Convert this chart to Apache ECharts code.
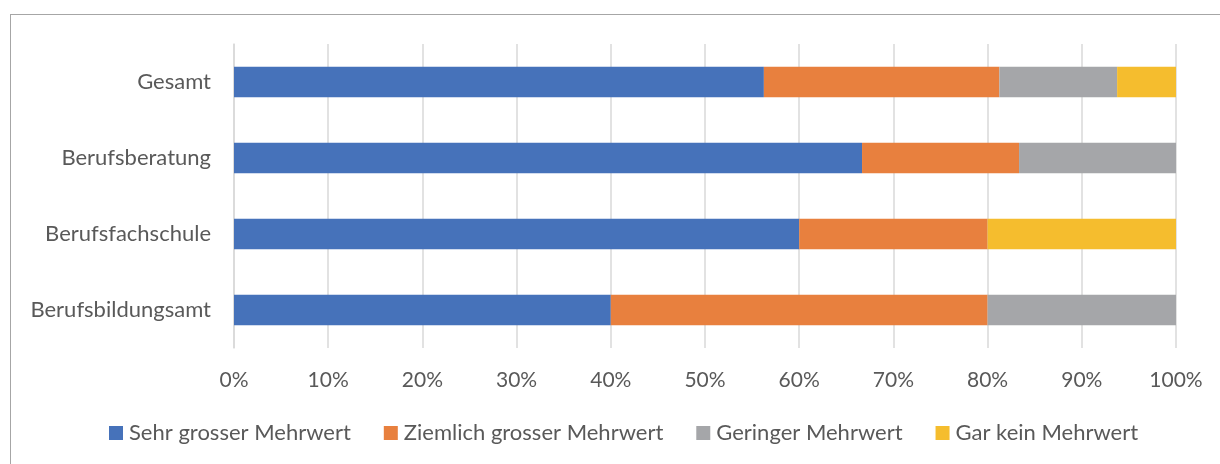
<!DOCTYPE html>
<html><head><meta charset="utf-8">
<script src="https://cdn.jsdelivr.net/npm/echarts@6/dist/echarts.min.js"></script>
<style>
html,body{margin:0;padding:0;background:#fff;}
#c{width:1220px;height:464px;position:absolute;left:0;top:0;}
#frame{position:absolute;left:10px;top:14px;width:1230px;height:470px;border:1.5px solid #a6a6a6;box-sizing:border-box;pointer-events:none;}
</style></head>
<body>
<div id="c"></div><div id="frame"></div>
<script>
const categories = ['Gesamt','Berufsberatung','Berufsfachschule','Berufsbildungsamt'];
const seriesNames = ['Sehr grosser Mehrwert','Ziemlich grosser Mehrwert','Geringer Mehrwert','Gar kein Mehrwert'];
const sehrGross = [56.25, 66.67, 60, 40];
const ziemlichGross = [25, 16.67, 20, 40];
const geringer = [12.5, 16.66, 0, 20];
const garKein = [6.25, 0, 20, 0];
const xTicks = [0,10,20,30,40,50,60,70,80,90,100];

const colors = ['#4672BA','#E8803E','#A5A6A9','#F5BD2E'];
const font = 'Lato';
const textColor = '#595959';
const values = [sehrGross, ziemlichGross, geringer, garKein];

const chart = echarts.init(document.getElementById('c'));
chart.setOption({
  animation:false,
  color: colors,
  grid:{left:234,right:44,top:44,bottom:116,containLabel:false},
  legend:{
    data: seriesNames, bottom:15, left:104,
    itemWidth:14,itemHeight:14,itemGap:33,icon:'rect',
    textStyle:{fontFamily:font,fontSize:22,color:textColor,padding:[0,0,0,1]}
  },
  xAxis:{type:'value',min:0,max:100,interval:10,
    axisLine:{show:false},axisTick:{show:false},
    splitLine:{lineStyle:{color:'#d9d9d9',width:1.5}},
    axisLabel:{fontFamily:font,fontSize:21,color:textColor,margin:22,formatter:v=>v+'%'}
  },
  yAxis:{type:'category',data:categories,inverse:true,
    axisLine:{show:true,lineStyle:{color:'#d9d9d9',width:1.5}},axisTick:{show:false},
    axisLabel:{fontFamily:font,fontSize:22,color:textColor,margin:23}
  },
  series: seriesNames.map((n,i)=>({
    name:n,type:'bar',stack:'total',barWidth:'40%',data:values[i]
  }))
});
</script>
</body></html>
